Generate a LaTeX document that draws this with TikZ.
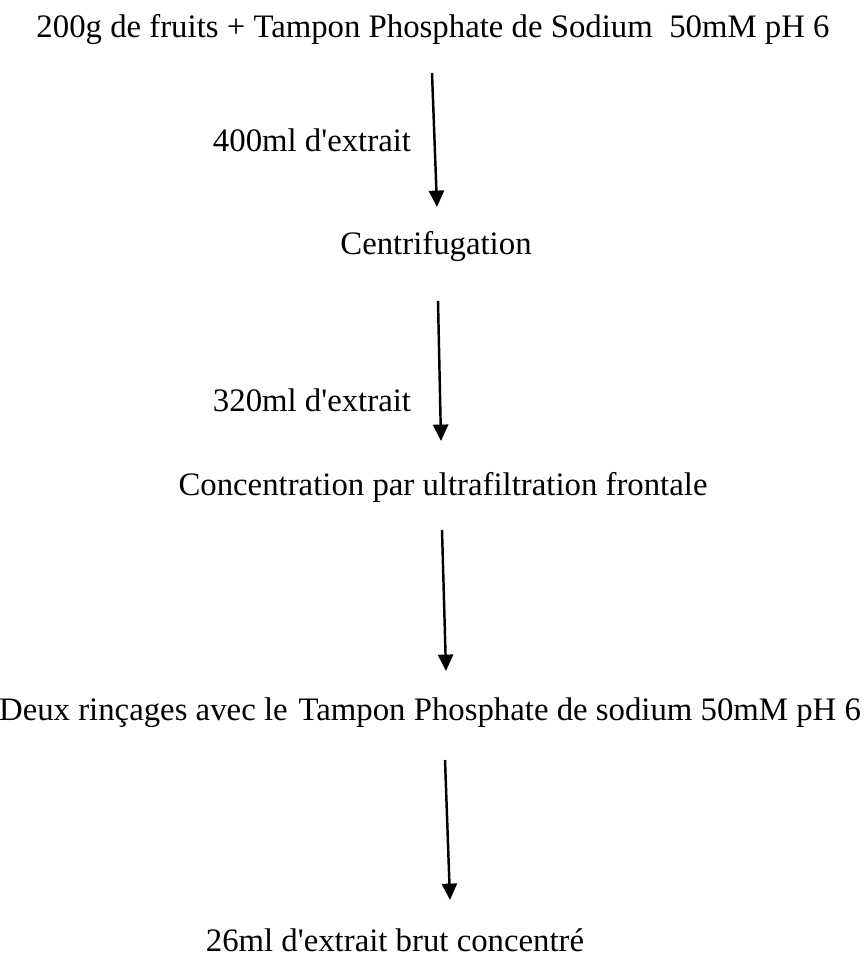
\documentclass[tikz,border=0pt]{standalone}
\usepackage{fontspec}
\setmainfont[Ligatures=TeXOff]{Liberation Serif}
\usetikzlibrary{positioning}
\usetikzlibrary{arrows.meta}

\tikzset{
  etape/.style={inner sep=0pt, font=\fontsize{12}{14}\selectfont},
  fleche/.style={-{Triangle[length=6pt,width=5.5pt]}, line width=0.9pt}
}

\begin{document}
\begin{tikzpicture}[x=0.366pt, y=-0.366pt]
\useasboundingbox (0,0) rectangle (865,960);

%%%%%%%%%% Etapes %%%%%%%%
{
\node[etape] (fruits) at (433,30) {200g de fruits + Tampon Phosphate de Sodium~ 50mM pH 6};
\node[etape] (centri) at (436,247) {Centrifugation};
\node[etape] (ultra) at (443,487) {Concentration par ultrafiltration frontale};
\node[etape] (rincage) at (430,713) {Deux rinçages avec le\hspace{1pt} Tampon Phosphate de sodium 50mM pH 6};
\node[etape] (brut) at (395,940) {26ml d'extrait brut concentré};
}

%%%%%%%%%% Volumes %%%%%%%%
{
\node[etape] (vol400) at (312,140) {400ml d'extrait};
\node[etape] (vol320) at (312,400) {320ml d'extrait};
}

%%%%%%%%%%%%     Fleches   %%%%%%%%%%%%
{
\coordinate (f1a) at (432,73);  \coordinate (f1b) at (437,207);
\coordinate (f2a) at (438,301); \coordinate (f2b) at (441,441);
\coordinate (f3a) at (442,530); \coordinate (f3b) at (446,671);
\coordinate (f4a) at (445,760); \coordinate (f4b) at (450,900);

\draw[fleche] (f1a)--(f1b);
\draw[fleche] (f2a)--(f2b);
\draw[fleche] (f3a)--(f3b);
\draw[fleche] (f4a)--(f4b);
}

\end{tikzpicture}
\end{document}
